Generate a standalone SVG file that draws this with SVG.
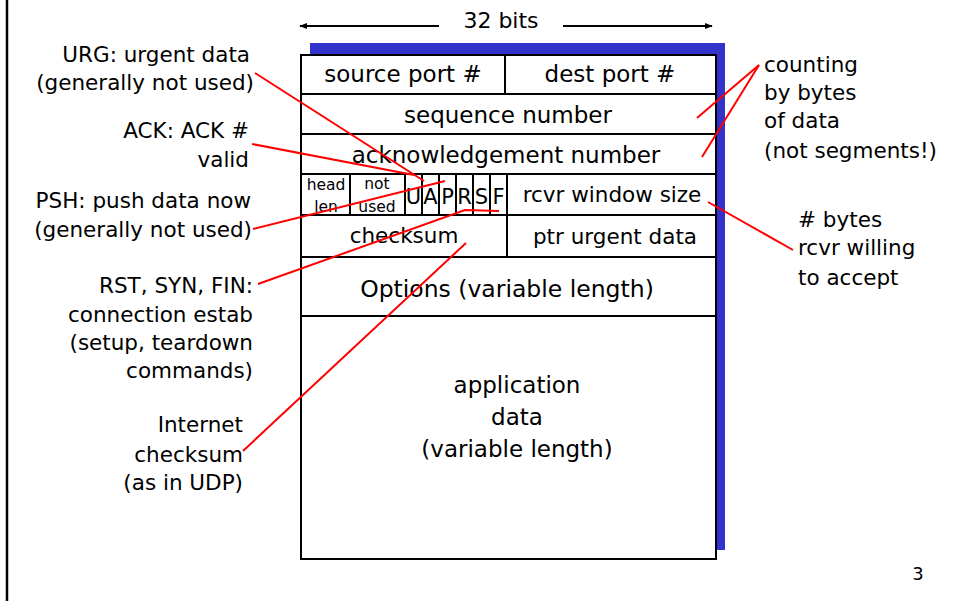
<svg xmlns="http://www.w3.org/2000/svg" width="958" height="601" viewBox="0 0 958 601">
<defs>
<style>
text{font-family:"DejaVu Sans","Verdana",sans-serif;fill:#000}
.f23{font-size:23px;text-anchor:middle}
.f22{font-size:21.5px;text-anchor:middle}
.lbl{font-size:21.5px;text-anchor:end}
.rl{font-size:21.5px}
.sm{font-size:15.5px;text-anchor:middle}
.flag{font-size:21px;text-anchor:middle}
.cell{fill:#fff;stroke:#000;stroke-width:2}
.ln{stroke:#000;stroke-width:2;fill:none}
.red{stroke:#ff0000;stroke-width:2;fill:none}
</style>
<marker id="ah" viewBox="0 0 10 10" refX="9" refY="5" markerWidth="8" markerHeight="8" orient="auto-start-reverse" markerUnits="userSpaceOnUse">
<path d="M0,1 L10,5 L0,9 z" fill="#000"/>
</marker>
</defs>
<rect width="958" height="601" fill="#fff"/>
<line x1="7" y1="0" x2="7" y2="601" stroke="#000" stroke-width="2.5"/>

<g id="width-label">
<text x="501" y="28" style="font-size:22px;text-anchor:middle">32 bits</text>
<line class="ln" x1="439" y1="26" x2="300" y2="26" stroke-width="1.5" marker-end="url(#ah)"/>
<line class="ln" x1="563" y1="26" x2="712" y2="26" stroke-width="1.5" marker-end="url(#ah)"/>
</g>

<g id="segment">
<rect x="310" y="43" width="415" height="507" fill="#3333cc"/>
<rect class="cell" x="301" y="55" width="415" height="504"/>
<line class="ln" x1="301" y1="94" x2="716" y2="94"/>
<line class="ln" x1="301" y1="134" x2="716" y2="134"/>
<line class="ln" x1="301" y1="174" x2="716" y2="174"/>
<line class="ln" x1="301" y1="215" x2="716" y2="215"/>
<line class="ln" x1="301" y1="257" x2="716" y2="257"/>
<line class="ln" x1="301" y1="316" x2="716" y2="316"/>
<line class="ln" x1="505" y1="55" x2="505" y2="94"/>
<line class="ln" x1="507" y1="215" x2="507" y2="257"/>
<g id="flags-row">
<line class="ln" x1="350" y1="174" x2="350" y2="215"/>
<line class="ln" x1="405" y1="174" x2="405" y2="215"/>
<line class="ln" x1="422" y1="174" x2="422" y2="215"/>
<line class="ln" x1="439" y1="174" x2="439" y2="215"/>
<line class="ln" x1="456" y1="174" x2="456" y2="215"/>
<line class="ln" x1="473" y1="174" x2="473" y2="215"/>
<line class="ln" x1="490" y1="174" x2="490" y2="215"/>
<line class="ln" x1="507" y1="174" x2="507" y2="215"/>
</g>
<text class="f23" x="403" y="82">source port #</text>
<text class="f23" x="610" y="82">dest port #</text>
<text class="f23" x="508" y="123">sequence number</text>
<text class="f23" x="506" y="163">acknowledgement number</text>
<text class="sm" x="326" y="190">head</text>
<text class="sm" x="326" y="212">len</text>
<text class="sm" x="377" y="189">not</text>
<text class="sm" x="377" y="212">used</text>
<text class="flag" x="413.5" y="204">U</text>
<text class="flag" x="430.5" y="204">A</text>
<text class="flag" x="447.5" y="204">P</text>
<text class="flag" x="464.5" y="204">R</text>
<text class="flag" x="481.5" y="204">S</text>
<text class="flag" x="498.5" y="204">F</text>
<text class="f22" x="612" y="202">rcvr window size</text>
<text class="f22" x="404" y="243">checksum</text>
<text class="f22" x="615" y="244">ptr urgent data</text>
<text x="507" y="297" style="font-size:23.5px;text-anchor:middle">Options (variable length)</text>
<text class="f23" x="517" y="393">application</text>
<text class="f23" x="517" y="425">data</text>
<text class="f23" x="517" y="457">(variable length)</text>
</g>

<g id="label-urg">
<text class="lbl" x="250" y="62">URG: urgent data</text>
<text class="lbl" x="254" y="90">(generally not used)</text>
</g>
<g id="label-ack">
<text class="lbl" x="249" y="138">ACK: ACK #</text>
<text class="lbl" x="249" y="167">valid</text>
</g>
<g id="label-psh">
<text class="lbl" x="251" y="208">PSH: push data now</text>
<text class="lbl" x="252" y="237">(generally not used)</text>
</g>
<g id="label-rst">
<text class="lbl" x="253" y="293">RST, SYN, FIN:</text>
<text class="lbl" x="253" y="322">connection estab</text>
<text class="lbl" x="253" y="350">(setup, teardown</text>
<text class="lbl" x="253" y="378">commands)</text>
</g>
<g id="label-checksum">
<text class="lbl" x="243" y="432">Internet</text>
<text class="lbl" x="243" y="462">checksum</text>
<text class="lbl" x="243" y="490">(as in UDP)</text>
</g>
<g id="label-counting">
<text class="rl" x="764" y="72">counting</text>
<text class="rl" x="764" y="100">by bytes</text>
<text class="rl" x="764" y="128">of data</text>
<text class="rl" x="764" y="158">(not segments!)</text>
</g>
<g id="label-window">
<text class="rl" x="798" y="227"># bytes</text>
<text class="rl" x="798" y="255">rcvr willing</text>
<text class="rl" x="798" y="285">to accept</text>
</g>
<text id="page-number" x="918" y="580" style="font-size:18px;text-anchor:middle">3</text>

<g id="connectors">
<line class="red" x1="255" y1="73" x2="424" y2="181"/>
<line class="red" x1="252" y1="144" x2="414" y2="175"/>
<line class="red" x1="253" y1="229" x2="445" y2="181"/>
<polyline class="red" points="258,284 465,210 499,211"/>
<line class="red" x1="243" y1="451" x2="466" y2="243"/>
<line class="red" x1="759" y1="65" x2="697" y2="118"/>
<line class="red" x1="759" y1="65" x2="702" y2="157"/>
<line class="red" x1="708" y1="202" x2="793" y2="250"/>
</g>
</svg>
